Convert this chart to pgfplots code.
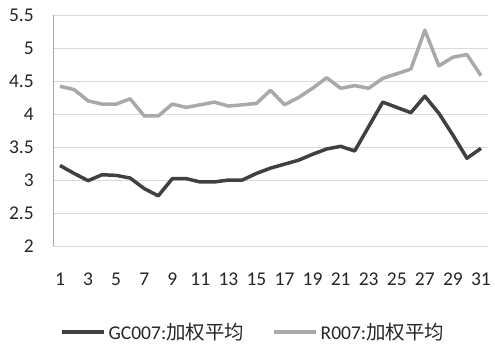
\documentclass[border=0pt]{standalone}
\usepackage{fontspec}
\setmainfont{Carlito}
\newfontfamily\cjk{Noto Sans CJK SC}
\usepackage{pgfplots}
\pgfplotsset{compat=1.18}
\definecolor{darkline}{HTML}{404040}
\definecolor{lightline}{HTML}{A9A9A9}
\definecolor{gridc}{HTML}{D9D9D9}
\definecolor{axisc}{HTML}{A6A6A6}
\begin{document}
\begin{tikzpicture}[x=1bp,y=1bp]
\path[use as bounding box] (0,0) rectangle (495,345);
\begin{axis}[
  at={(53bp,99bp)}, anchor=south west,
  scale only axis, width=435bp, height=231bp,
  xmin=0.5, xmax=31.5, ymin=2, ymax=5.5,
  xtick={1,3,...,31},
  ytick={2,2.5,...,5.5},
  yticklabels={2,2.5,3,3.5,4,4.5,5,5.5},
  /pgf/number format/assume math mode=true,
  ymajorgrids, grid style={gridc, line width=0.8bp},
  axis x line*=bottom, axis y line*=left,
  x axis line style={draw=gridc, line width=0.8bp, -},
  y axis line style={draw=axisc, line width=0.8bp, -},
  major tick length=0pt,
  tick style={draw=none},
  ticklabel style={font=\fontsize{19.5bp}{22bp}\selectfont, text=black!85},
  xticklabel style={anchor=center, yshift=-33bp, inner sep=0pt},
  yticklabel style={anchor=east, xshift=-19bp, inner sep=0pt},
  legend columns=2,
  legend style={draw=none, fill=none, at={(0.016,-0.372)}, anchor=west, inner sep=0pt,
    font=\fontsize{19.5bp}{22bp}\selectfont,
    nodes={inner sep=0pt, inner xsep=3bp, text=black!85},
    /tikz/every even column/.append style={column sep=25bp}},
  legend image code/.code={\draw[#1] (0bp,0bp) -- (42bp,0bp);},
]
\addplot[darkline, line width=3.5bp, line join=round] coordinates {
(1,3.22) (2,3.10) (3,2.99) (4,3.08) (5,3.07) (6,3.03) (7,2.87) (8,2.76)
(9,3.02) (10,3.02) (11,2.97) (12,2.97) (13,3.00) (14,3.00) (15,3.10)
(16,3.18) (17,3.24) (18,3.30) (19,3.39) (20,3.47) (21,3.51) (22,3.44)
(23,3.81) (24,4.18) (25,4.10) (26,4.02) (27,4.27) (28,4.01) (29,3.68)
(30,3.33) (31,3.48)};
\addlegendentry{GC007:{\cjk 加权平均}}
\addplot[lightline, line width=3.5bp, line join=round] coordinates {
(1,4.42) (2,4.37) (3,4.20) (4,4.15) (5,4.15) (6,4.23) (7,3.97) (8,3.97)
(9,4.15) (10,4.10) (11,4.14) (12,4.18) (13,4.12) (14,4.14) (15,4.16)
(16,4.36) (17,4.14) (18,4.25) (19,4.39) (20,4.55) (21,4.39) (22,4.43)
(23,4.39) (24,4.54) (25,4.61) (26,4.68) (27,5.27) (28,4.73) (29,4.86)
(30,4.90) (31,4.58)};
\addlegendentry{R007:{\cjk 加权平均}}
\end{axis}
\end{tikzpicture}
\end{document}
